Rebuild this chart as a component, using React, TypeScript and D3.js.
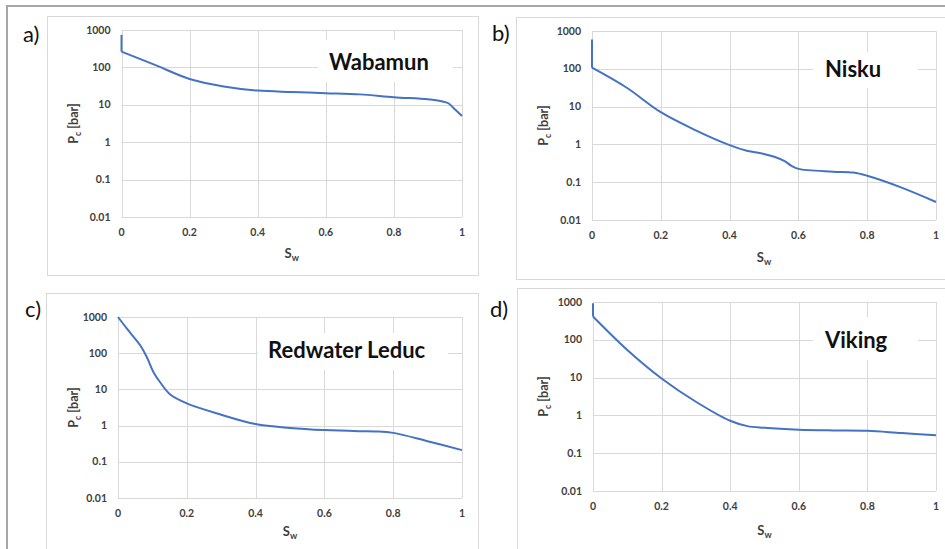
import React from "react";
import * as d3 from "d3";

// ---- data ----
const xTickValues = [0, 0.2, 0.4, 0.6, 0.8, 1];
const xTickLabels = ["0", "0.2", "0.4", "0.6", "0.8", "1"];
const yTickValues = [0.01, 0.1, 1, 10, 100, 1000];
const yTickLabels = ["0.01", "0.1", "1", "10", "100", "1000"];

const panelLetters = ["a)", "b)", "c)", "d)"];
const panelNames = ["Wabamun", "Nisku", "Redwater Leduc", "Viking"];

const swWabamun = [0, 0, 0.1, 0.2, 0.3, 0.4, 0.5, 0.6, 0.7, 0.8, 0.9, 0.94, 0.96, 0.975, 1];
const pcWabamun = [740, 263, 115, 49, 31, 24, 22, 20.5, 19, 16, 14, 12.5, 11, 8.2, 5];

const swNisku = [0, 0, 0.1, 0.2, 0.3, 0.4, 0.45, 0.5, 0.53, 0.56, 0.58, 0.6, 0.7, 0.76, 0.8, 0.9, 1];
const pcNisku = [600, 107, 32, 7.1, 2.4, 0.96, 0.68, 0.56, 0.47, 0.36, 0.27, 0.225, 0.19, 0.18, 0.148, 0.072, 0.03];

const swRedwater = [0, 0.026, 0.065, 0.084, 0.104, 0.123, 0.152, 0.2, 0.3, 0.4, 0.5, 0.6, 0.7, 0.75, 0.8, 0.9, 1];
const pcRedwater = [1000, 474, 163, 77, 29, 15.5, 7.2, 4.1, 2.0, 1.1, 0.86, 0.75, 0.7, 0.69, 0.63, 0.37, 0.21];

const swViking = [0, 0, 0.1, 0.2, 0.3, 0.4, 0.45, 0.5, 0.6, 0.7, 0.8, 0.9, 1];
const pcViking = [930, 415, 54, 9.5, 2.3, 0.72, 0.52, 0.47, 0.42, 0.4, 0.39, 0.34, 0.3];

const seriesSw = [swWabamun, swNisku, swRedwater, swViking];
const seriesPc = [pcWabamun, pcNisku, pcRedwater, pcViking];

// ---- layout ----
type Layout = {
  box: [number, number, number, number];
  plot: [number, number, number, number]; // x0, x1, yTop, yBottom
  letter: [number, number];
  title: [number, number, number, number, number, number]; // rect x,y,w,h, text x, baseline
  yTitle: number;
  xTitleY: number;
};

const layouts: Layout[] = [
  { box: [47, 16, 431, 259], plot: [121.5, 462, 30, 217], letter: [23, 42], title: [318, 40, 135, 42, 329, 70], yTitle: 72.5, xTitleY: 258 },
  { box: [516, 17, 440, 262], plot: [592, 936, 31, 220], letter: [492, 41], title: [813, 52, 105, 36, 825, 77], yTitle: 542.5, xTitleY: 262 },
  { box: [46, 293, 432, 270], plot: [118, 462, 317, 498], letter: [25, 317], title: [258, 333, 190, 37, 268, 358], yTitle: 72.5, xTitleY: 536 },
  { box: [517, 288, 440, 270], plot: [593, 936, 302, 491], letter: [490, 317], title: [813, 317, 105, 43, 825, 348], yTitle: 542.5, xTitleY: 535 },
];

const FONT = "Lato, 'Open Sans', sans-serif";
const GRID = "#d9d9d9";
const LABEL = "#404040";
const LINE = "#4472C4";

function Panel({ idx }: { idx: number }) {
  const L = layouts[idx];
  const [x0, x1, yT, yB] = L.plot;
  const x = d3.scaleLinear().domain([0, 1]).range([x0, x1]);
  const y = d3.scaleLog().domain([0.01, 1000]).range([yB, yT]);
  const sw = seriesSw[idx];
  const pc = seriesPc[idx];
  const pts: [number, number][] = sw.map((s, i) => [s, pc[i]]);
  // split off leading vertical segment (same x)
  let k = 0;
  while (k + 1 < pts.length && pts[k + 1][0] === pts[k][0]) k++;
  const vertical = pts.slice(0, k + 1);
  const rest = pts.slice(k);
  const lineLin = d3.line<[number, number]>().x((d) => x(d[0])).y((d) => y(d[1]));
  const lineSmooth = d3
    .line<[number, number]>()
    .x((d) => x(d[0]))
    .y((d) => y(d[1]))
    .curve(d3.curveCatmullRom.alpha(0.5));
  const cx = (x0 + x1) / 2;
  const cy = (yT + yB) / 2;
  return (
    <g>
      <rect x={L.box[0] + 0.5} y={L.box[1] + 0.5} width={L.box[2]} height={L.box[3]} fill="#fff" stroke={GRID} strokeWidth={1} />
      {yTickValues.map((v) => (
        <line key={"h" + v} x1={x0} x2={x1} y1={Math.round(y(v)) + 0.5} y2={Math.round(y(v)) + 0.5} stroke={GRID} strokeWidth={1} />
      ))}
      {xTickValues.map((v) => (
        <line key={"v" + v} x1={Math.round(x(v)) + 0.5} x2={Math.round(x(v)) + 0.5} y1={yT} y2={yB} stroke={GRID} strokeWidth={1} />
      ))}
      {yTickValues.map((v, i) => (
        <text key={"yl" + v} x={x0 - 11} y={y(v) + 3.5} textAnchor="end" fontFamily={FONT} fontSize={10.5} fontWeight="bold" fill={LABEL}>
          {yTickLabels[i]}
        </text>
      ))}
      {xTickValues.map((v, i) => (
        <text key={"xl" + v} x={x(v)} y={yB + 19} textAnchor="middle" fontFamily={FONT} fontSize={10.5} fontWeight="bold" fill={LABEL}>
          {xTickLabels[i]}
        </text>
      ))}
      <text x={cx} y={L.xTitleY} textAnchor="middle" fontFamily={FONT} fontSize={13} fontWeight="bold" fill={LABEL}>
        S<tspan fontSize={9} dy={3}>w</tspan>
      </text>
      <text transform={`translate(${L.yTitle + 5},${cy}) rotate(-90)`} textAnchor="middle" fontFamily={FONT} fontSize={12.5} fontWeight="bold" fill={LABEL}>
        P<tspan fontSize={8.5} dy={3}>c</tspan>
        <tspan dy={-3}> [bar]</tspan>
      </text>
      <rect x={L.title[0]} y={L.title[1]} width={L.title[2]} height={L.title[3]} fill="#fff" />
      <text x={L.title[4]} y={L.title[5]} fontFamily={FONT} fontSize={22} fontWeight="bold" fill="#111">
        {panelNames[idx]}
      </text>
      {vertical.length > 1 && <path d={lineLin(vertical) || ""} fill="none" stroke={LINE} strokeWidth={2} />}
      <path d={lineSmooth(rest) || ""} fill="none" stroke={LINE} strokeWidth={2} strokeLinejoin="round" />
      <text x={L.letter[0]} y={L.letter[1]} fontFamily={FONT} fontSize={22} fill="#111">
        {panelLetters[idx]}
      </text>
    </g>
  );
}

export default function App() {
  return (
    <svg width={945} height={549} style={{ position: "absolute", left: 0, top: 0, background: "#fff" }}>
      <rect x={0} y={0} width={945} height={549} fill="#fff" />
      {[0, 1, 2, 3].map((i) => (
        <Panel key={i} idx={i} />
      ))}
      <rect x={7} y={6} width={960} height={560} fill="none" stroke="#a6a6a6" strokeWidth={2} />
    </svg>
  );
}
